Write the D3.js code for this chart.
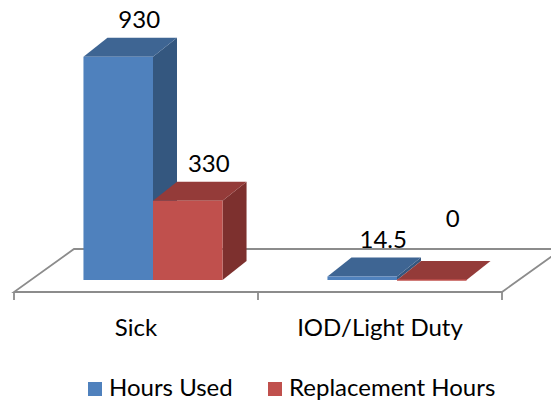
<!DOCTYPE html>
<html>
<head>
<meta charset="utf-8">
<script src="https://cdn.jsdelivr.net/npm/d3@7"></script>
<style>
  html, body { margin: 0; padding: 0; background: #fff; }
  svg { display: block; }
  text { font-family: Lato, "Open Sans", sans-serif; fill: #000; }
</style>
</head>
<body>
<svg id="chart" width="551" height="404"></svg>
<script>
const categories = ["Sick", "IOD/Light Duty"];
const seriesNames = ["Hours Used", "Replacement Hours"];
const hoursUsed = [930, 14.5];
const replacementHours = [330, 0];
const valueLabels = [["930", "14.5"], ["330", "0"]];

const seriesValues = [hoursUsed, replacementHours];
const frontColors = ["#4F81BD", "#C0504D"];
const topColors = ["#3E6593", "#943B39"];
const sideColors = ["#34577F", "#7D302E"];

const W = 551, H = 404;
const FS = 24;
const svg = d3.select("#chart");

// 3D projection offsets
const ddx = 24, ddy = 19;          // bar depth
const floorFx = 17, floorFy = 12;  // floor front edge relative to bar front plane
const floorBx = 43, floorBy = 31;  // floor back edge relative to bar front plane

const x0 = d3.scaleBand().domain(categories).range([31, 519]).paddingInner(0.43).paddingOuter(0.215);
const x1 = d3.scaleBand().domain(seriesNames).range([0, x0.bandwidth()]);
const y = d3.scaleLinear().domain([0, 1000]).range([280, 40]);

const [rL, rR] = x0.range();
const y0 = y(0);

// floor
svg.append("polygon")
  .attr("points", [
    [rL - floorFx, y0 + floorFy],
    [rR - floorFx, y0 + floorFy],
    [rR + floorBx, y0 - floorBy],
    [rL + floorBx, y0 - floorBy]
  ].map(p => p.join(",")).join(" "))
  .attr("fill", "#fff").attr("stroke", "#8C8C8C").attr("stroke-width", 1.8);

// ticks
const step = x0.step();
const tickXs = d3.range(categories.length + 1).map(i => rL - floorFx + i * step);
svg.selectAll("line.tick").data(tickXs).join("line")
  .attr("x1", d => d).attr("x2", d => d)
  .attr("y1", y0 + floorFy).attr("y2", y0 + floorFy + 8)
  .attr("stroke", "#8C8C8C").attr("stroke-width", 1.8);

// category labels
svg.selectAll("text.cat").data(categories).join("text")
  .attr("class", "cat")
  .attr("x", d => x0(d) + x0.bandwidth() / 2 - floorFx)
  .attr("y", 336)
  .attr("text-anchor", "middle")
  .attr("font-size", FS)
  .text(d => d);

const bars = [];
categories.forEach((c, ci) => {
  seriesNames.forEach((s, si) => {
    bars.push({ c, ci, s, si, v: seriesValues[si][ci], label: valueLabels[si][ci] });
  });
});

const g = svg.append("g");
bars.forEach(b => {
  const xl = x0(b.c) + x1(b.s);
  const xr = xl + x1.bandwidth();
  const yt = y(b.v);
  g.append("polygon")
    .attr("points", [[xr, yt], [xr + ddx, yt - ddy], [xr + ddx, y0 - ddy], [xr, y0]].map(p => p.join(",")).join(" "))
    .attr("fill", sideColors[b.si]);
  g.append("polygon")
    .attr("points", [[xl, yt], [xl + ddx, yt - ddy], [xr + ddx, yt - ddy], [xr, yt]].map(p => p.join(",")).join(" "))
    .attr("fill", topColors[b.si]);
  g.append("rect")
    .attr("x", xl).attr("y", yt)
    .attr("width", x1.bandwidth()).attr("height", Math.max(0, y0 - yt))
    .attr("fill", frontColors[b.si]);
  if (y0 - yt < 1) {
    g.append("line").attr("x1", xl).attr("x2", xr).attr("y1", y0).attr("y2", y0)
      .attr("stroke", frontColors[b.si]).attr("stroke-width", 1.5);
  }
});

// value labels
bars.forEach(b => {
  const xl = x0(b.c) + x1(b.s);
  const yt = y(b.v);
  const lift = b.v === 0 ? 34 : 10;
  svg.append("text")
    .attr("x", xl + x1.bandwidth() / 2 + ddx - 3)
    .attr("y", yt - ddy - lift)
    .attr("text-anchor", "middle")
    .attr("font-size", FS)
    .text(b.label);
});

// legend
const legendX = [88, 268];
const lg = svg.append("g");
seriesNames.forEach((s, i) => {
  lg.append("rect").attr("x", legendX[i]).attr("y", 382).attr("width", 14).attr("height", 14).attr("fill", frontColors[i]);
  lg.append("text").attr("x", legendX[i] + 21).attr("y", 396).attr("font-size", FS).text(s);
});
</script>
</body>
</html>
